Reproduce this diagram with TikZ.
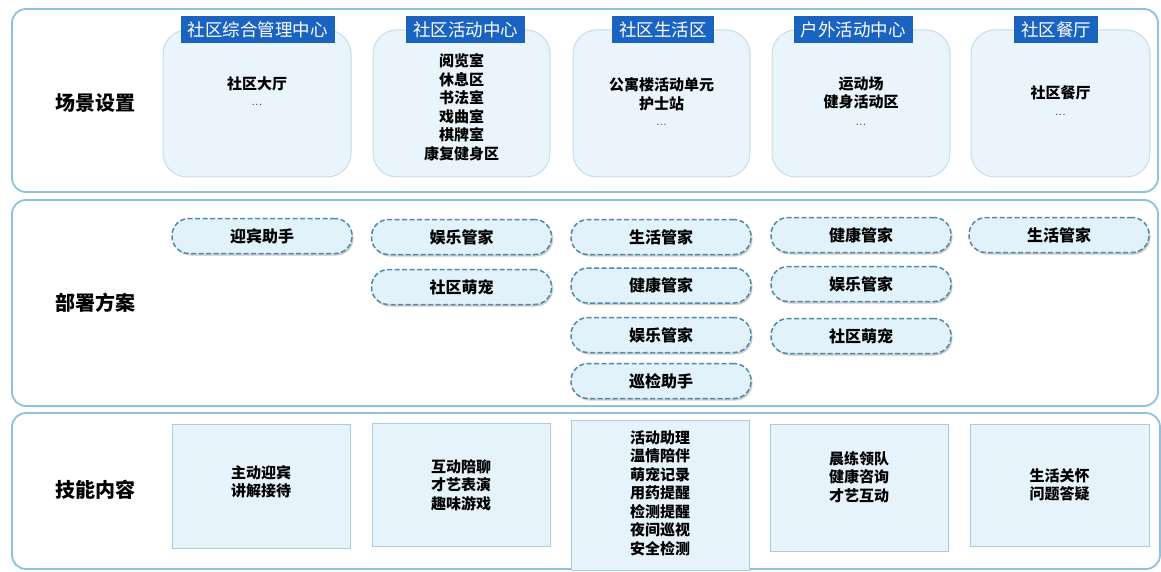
\documentclass[tikz,border=0pt]{standalone}
\usepackage{fontspec}
\newfontfamily\cjk{Noto Sans CJK SC}
\usetikzlibrary{shadows}
\definecolor{panelline}{HTML}{8CC2DD}
\definecolor{tagblue}{HTML}{1B63C0}
\definecolor{scenefill}{HTML}{E9F4FB}
\definecolor{sceneline}{HTML}{C3DDEA}
\definecolor{pillfill}{HTML}{E2F2FB}
\definecolor{pillline}{HTML}{4F8AA6}
\definecolor{skillfill}{HTML}{E6F3FB}
\definecolor{skillline}{HTML}{A8CCE0}
\tikzset{
  panel/.style={draw=panelline,line width=1.8pt,rounded corners=14pt},
  rowlabel/.style={font=\cjk\bfseries\fontsize{20}{24}\selectfont},
  scenebox/.style={draw=sceneline,fill=scenefill,line width=1pt,rounded corners=24pt,minimum height=147pt},
  tagbox/.style={fill=tagblue,text=white,font=\cjk\fontsize{17.5}{20}\selectfont,inner xsep=7pt,minimum height=27pt},
  pill/.style={draw=pillline,fill=pillfill,dash pattern=on 5pt off 2.5pt,line width=1.5pt,rounded corners=17pt,minimum width=180pt,minimum height=35pt,
    drop shadow={shadow xshift=1.5pt,shadow yshift=-2pt,fill=black!40},font=\cjk\bfseries\fontsize{16}{18}\selectfont},
  skillbox/.style={draw=skillline,fill=skillfill,line width=1pt},
  content/.style={align=center,font=\cjk\bfseries\fontsize{15}{18.5}\selectfont},
  dots/.style={font=\fontsize{13}{13}\selectfont,text=black!80}
}
\begin{document}
\begin{tikzpicture}[x=1pt,y=-1pt]
\useasboundingbox (0,0) rectangle (1161,572);
% three rows
\draw[panel] (12,9) rectangle (1158,192);
\draw[panel] (12,200) rectangle (1158,406);
\draw[panel] (12,413) rectangle (1160,569);
\node[rowlabel] (row1) at (95,103) {场景设置};
\node[rowlabel] (row2) at (95,303) {部署方案};
\node[rowlabel] (row3) at (95,490) {技能内容};
% scenes
\foreach \n/\x/\w/\ty/\txt in {1/257/188/84/{社区大厅},2/461.5/177/107/{阅览室\\休息区\\书法室\\戏曲室\\棋牌室\\康复健身区},
  3/661.5/177/94/{公寓楼活动单元\\护士站},4/861/178/93/{运动场\\健身活动区},5/1060.5/179/93/{社区餐厅}}{
  \node[scenebox,minimum width=\w pt] (scene\n) at (\x,103.5) {};
  \node[content] (place\n) at (\x,\ty) {\txt};}
\foreach \n/\y in {1/105,3/125,4/125,5/115}
  \node[dots] (more\n) at (place\n.center |- 0,\y) {...};
\foreach \n/\x/\t in {1/257.5/社区综合管理中心,2/465.5/社区活动中心,3/663/社区生活区,4/853/户外活动中心,5/1056/社区餐厅}
  \node[tagbox] (tag\n) at (\x,30) {\t};
% robots
\foreach \n/\x/\y/\t in {a/262/236/迎宾助手,b/461.5/237/娱乐管家,c/461.5/287/社区萌宠,
  d/661/237/生活管家,e/661/285.5/健康管家,f/661/335/娱乐管家,g/661/381/巡检助手,
  h/861/235/健康管家,i/861/284/娱乐管家,j/861/336/社区萌宠,k/1059/235/生活管家}
  \node[pill] (bot\n) at (\x,\y) {\t};
% skills
\foreach \n/\x/\y/\w/\h/\ty/\txt in {1/261/486/178/124/482/{主动迎宾\\讲解接待},2/461/484.5/178/123/485/{互动陪聊\\才艺表演\\趣味游戏},
  3/660/495/178/150/493/{活动助理\\温情陪伴\\萌宠记录\\用药提醒\\检测提醒\\夜间巡视\\安全检测},
  4/859/487.5/178/127/477/{晨练领队\\健康咨询\\才艺互动},5/1059.5/485/179/122/485/{生活关怀\\问题答疑}}{
  \node[skillbox,minimum width=\w pt,minimum height=\h pt] (skill\n) at (\x,\y) {};
  \node[content] (skilltxt\n) at (\x,\ty) {\txt};}
\end{tikzpicture}
\end{document}
